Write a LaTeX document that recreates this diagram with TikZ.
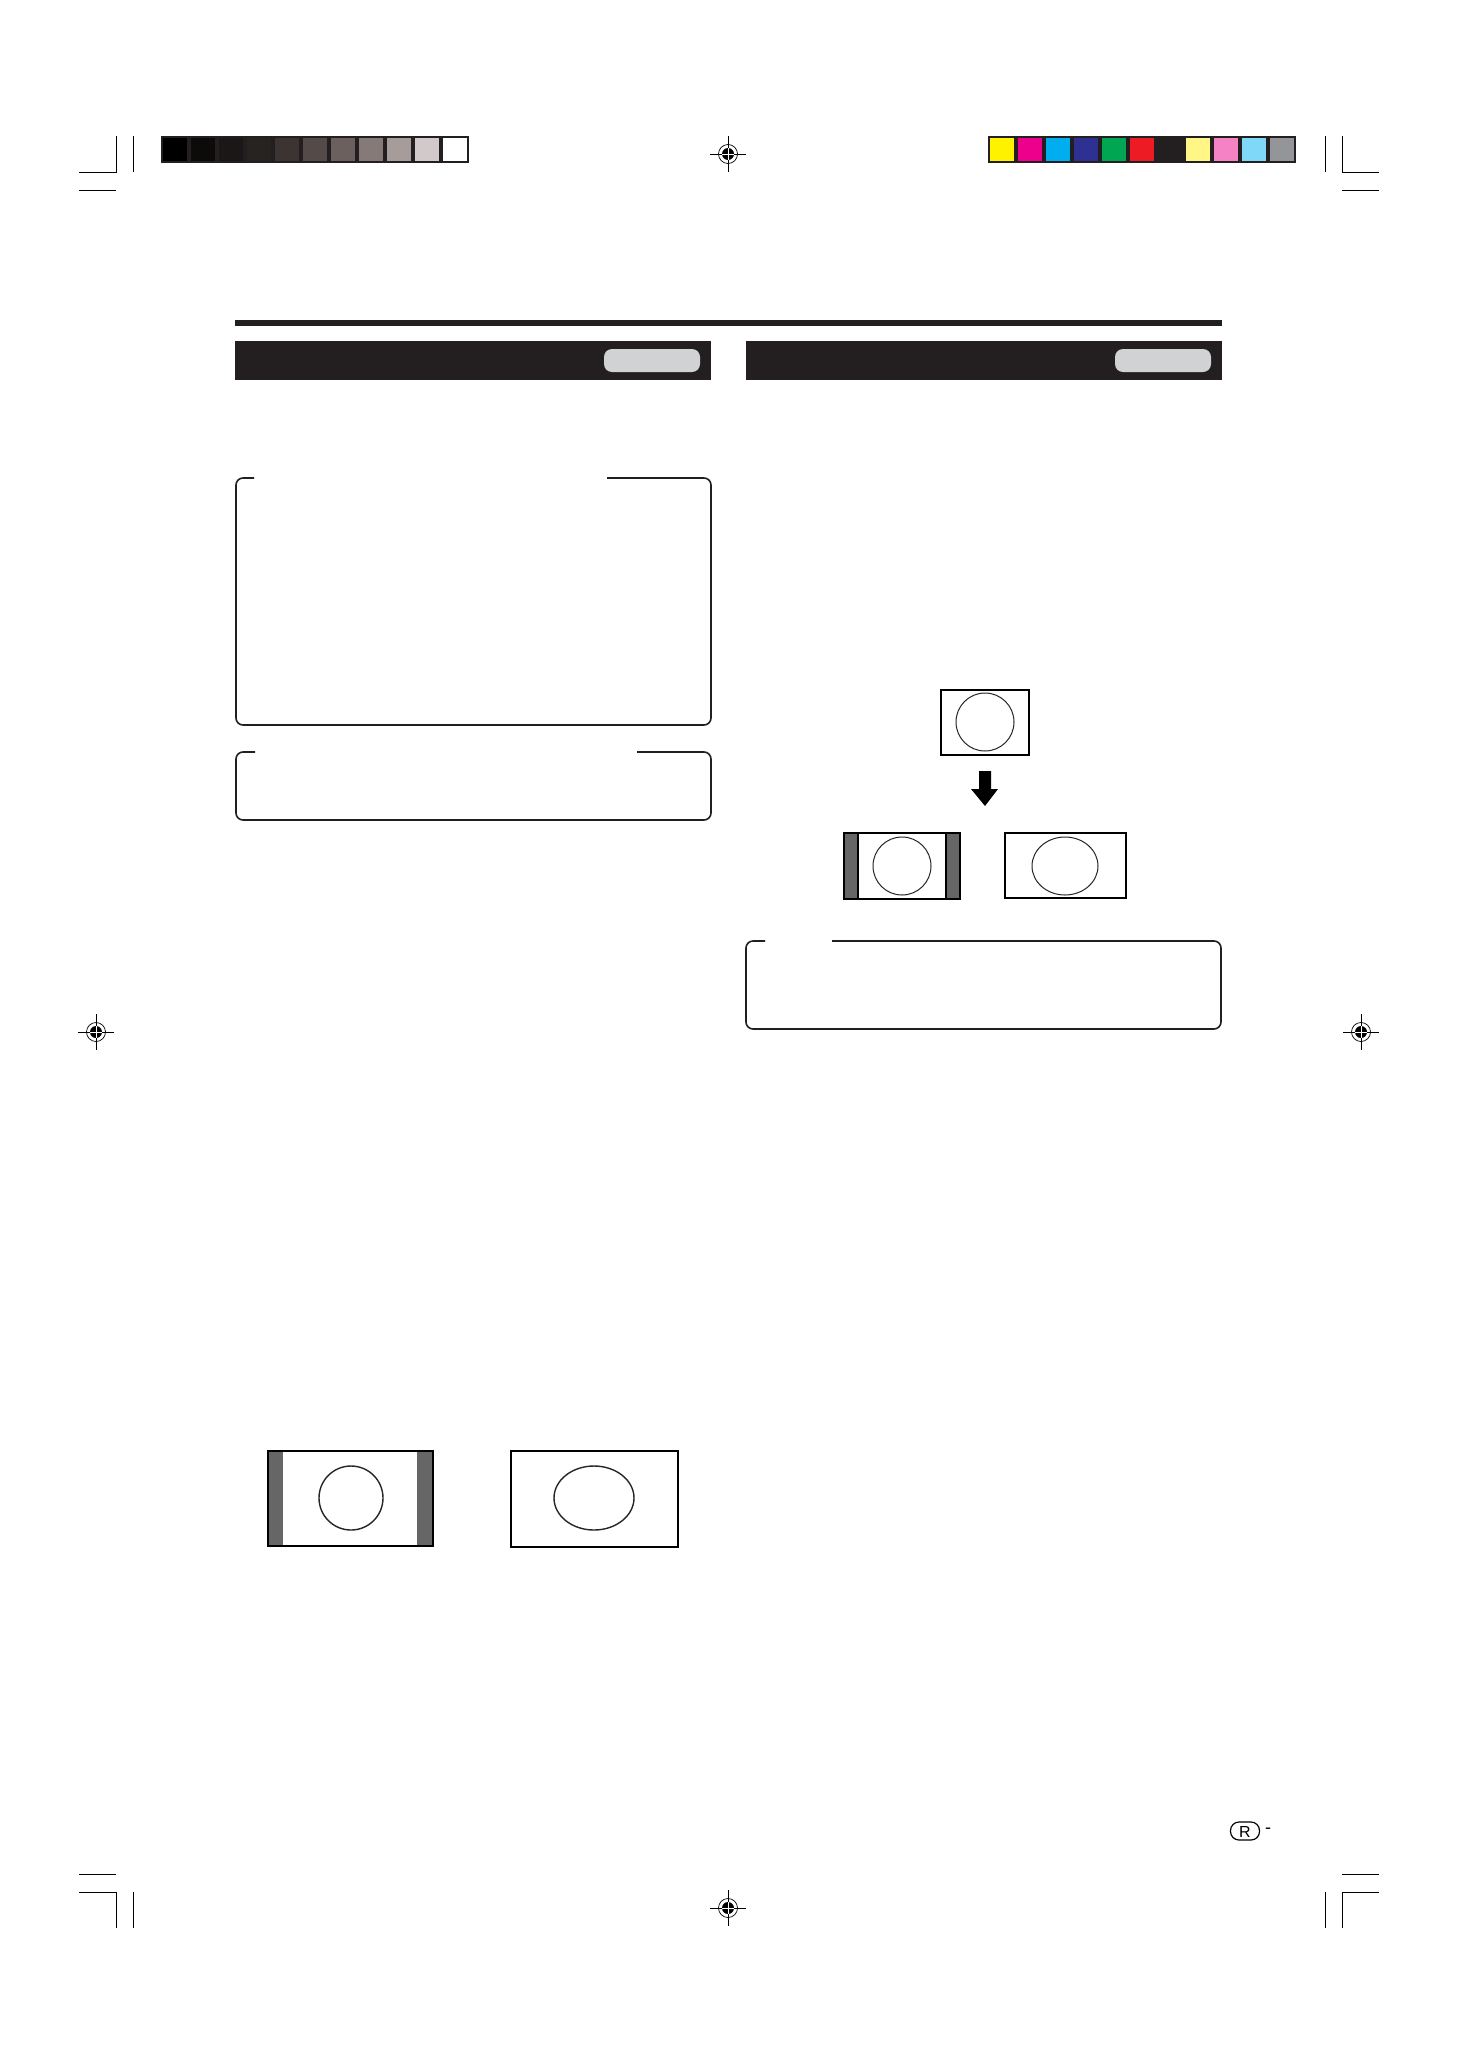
\documentclass[tikz,border=0pt]{standalone}
\usepackage{fontspec}
\setsansfont{Liberation Sans}
\definecolor{ink}{HTML}{231F20}
\definecolor{pillgray}{HTML}{D1D2D3}
\definecolor{tvbar}{HTML}{666666}
\definecolor{g0}{HTML}{000000}
\definecolor{g1}{HTML}{0D0B0A}
\definecolor{g2}{HTML}{1A1716}
\definecolor{g3}{HTML}{272320}
\definecolor{g4}{HTML}{3C3433}
\definecolor{g5}{HTML}{544B49}
\definecolor{g6}{HTML}{6B605E}
\definecolor{g7}{HTML}{857A78}
\definecolor{g8}{HTML}{A69C9A}
\definecolor{g9}{HTML}{D2CACA}
\definecolor{g10}{HTML}{FFFFFF}
\definecolor{c0}{HTML}{FFF200}
\definecolor{c1}{HTML}{EC008C}
\definecolor{c2}{HTML}{00AEEF}
\definecolor{c3}{HTML}{2E3192}
\definecolor{c4}{HTML}{00A651}
\definecolor{c5}{HTML}{ED1C24}
\definecolor{c6}{HTML}{231F20}
\definecolor{c7}{HTML}{FFF685}
\definecolor{c8}{HTML}{F582C5}
\definecolor{c9}{HTML}{80D8F8}
\definecolor{c10}{HTML}{939598}
\tikzset{
  boxline/.style={draw=ink, line width=1.6pt, rounded corners=7pt},
  tvframe/.style={draw=black, line width=1.4pt},
  tvround/.style={draw=black!85, line width=1pt},
  cropline/.style={draw=black, line width=1pt},
  regmark/.pic={
    \draw[line width=0.7pt] (-18,0) -- (18,0) (0,-18) -- (0,18);
    \draw[line width=0.7pt] (0,0) circle[radius=9.5pt];
    \fill (0,0) circle[radius=6pt];
    \draw[white, line width=0.7pt] (-6,0) -- (6,0) (0,-6) -- (0,6);
  }
}
\begin{document}
\begin{tikzpicture}[x=1pt, y=-1pt]
\useasboundingbox (0,0) rectangle (1458,2064);
\fill[white] (0,0) rectangle (1458,2064);

% ---------- crop marks ----------
\draw[cropline] (79,172) -- (116,172) -- (116,136) (133,136) -- (133,172) (79,190) -- (116,190);
\draw[cropline] (1379,172) -- (1342,172) -- (1342,136) (1325,136) -- (1325,172) (1379,190) -- (1342,190);
\draw[cropline] (79,1892) -- (116,1892) -- (116,1928) (133,1928) -- (133,1892) (79,1874) -- (116,1874);
\draw[cropline] (1379,1892) -- (1342,1892) -- (1342,1928) (1325,1928) -- (1325,1892) (1379,1874) -- (1342,1874);

% ---------- register marks ----------
\pic at (728,154) {regmark};
\pic at (728,1908) {regmark};
\pic at (96,1032) {regmark};
\pic at (1361,1032) {regmark};

% ---------- gray swatch bar ----------
\fill[ink] (161,136) rectangle (469,163);
\foreach \i in {0,...,10} {
  \fill[g\i] ({163+28*\i},138) rectangle ({187+28*\i},161);
}
% ---------- colour swatch bar ----------
\fill[ink] (988,136) rectangle (1296,163);
\foreach \i in {0,...,10} {
  \fill[c\i] ({990+28*\i},138) rectangle ({1014+28*\i},161);
}

% ---------- title rule and headers ----------
\fill[ink] (235,320) rectangle (1222,326);
\fill[ink] (235,341) rectangle (711,380);
\fill[pillgray, rounded corners=8pt] (604,349) rectangle (700,372);
\fill[ink] (746,341) rectangle (1222,380);
\fill[pillgray, rounded corners=8pt] (1115,349) rectangle (1211,372);

% ---------- framed boxes (open top) ----------
\draw[boxline] (607,478) -- (711,478) -- (711,725) -- (236,725) -- (236,478) -- (254,478);
\draw[boxline] (637,752) -- (711,752) -- (711,820) -- (236,820) -- (236,752) -- (255,752);
\draw[boxline] (832,941) -- (1221,941) -- (1221,1029) -- (746,1029) -- (746,941) -- (765,941);

% ---------- right column TV diagrams ----------
\draw[tvframe, line width=1.2pt] (941,690) rectangle (1029,755);
\draw[tvround] (985,722) circle[radius=29pt];
\fill[black] (979,771) -- (991,771) -- (991,789) -- (998,789) -- (985,806) -- (971,789) -- (979,789) -- cycle;

\fill[tvbar] (844,833) rectangle (858,899);
\fill[tvbar] (946,833) rectangle (960,899);
\draw[tvframe] (844,833) rectangle (960,899);
\draw[tvframe] (858,833) -- (858,899) (946,833) -- (946,899);
\draw[tvround] (902,866) circle[radius=29pt];

\draw[tvframe, line width=1.2pt] (1005,833) rectangle (1126,898);
\draw[tvround] (1065,866) ellipse[x radius=33pt, y radius=29pt];

% ---------- bottom left TV diagrams ----------
\fill[tvbar] (268,1451) rectangle (283,1546);
\fill[tvbar] (417,1451) rectangle (433,1546);
\draw[tvframe, line width=2pt] (268,1451) rectangle (433,1546);
\draw[tvround, line width=1.4pt] (351,1498) circle[radius=32pt];

\draw[tvframe, line width=2pt] (511,1451) rectangle (678,1547);
\draw[tvround, line width=1.4pt] (594,1498) ellipse[x radius=40pt, y radius=32pt];

% ---------- page mark ----------
\draw[line width=1.2pt, rounded corners=8.5pt] (1230.5,1822) rectangle (1259.5,1840);
\node[inner sep=0pt] (rmark) at (1245,1831.5) {\sffamily\fontsize{16}{16}\selectfont R};
\node[inner sep=0pt] (dash) at (1268,1831) {\sffamily\fontsize{18}{18}\selectfont -};
\end{tikzpicture}
\end{document}
